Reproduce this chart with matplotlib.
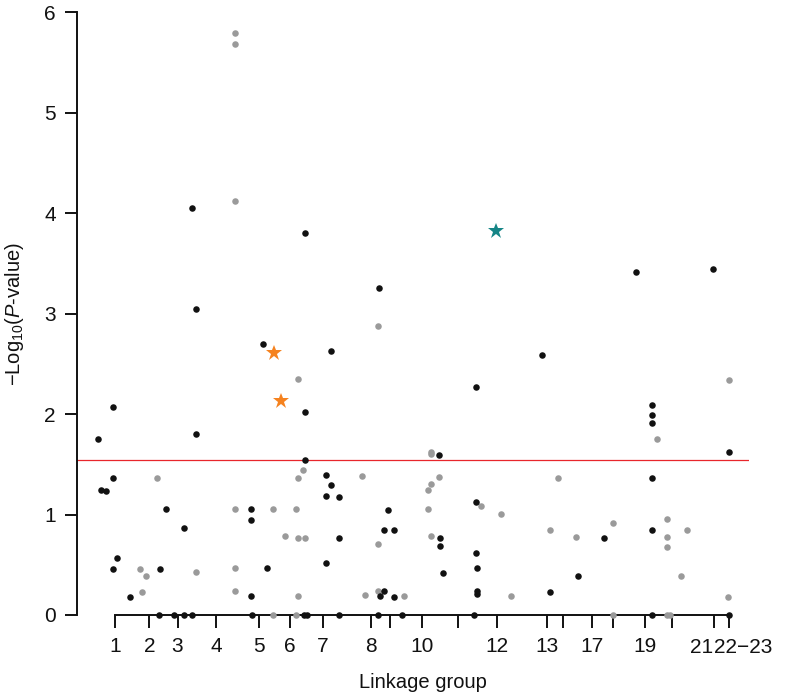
import matplotlib
matplotlib.use("Agg")
import matplotlib.pyplot as plt

plt.rcParams['font.family'] = ['Liberation Sans', 'DejaVu Sans']
plt.rcParams['mathtext.fontset'] = 'custom'
plt.rcParams['mathtext.rm'] = 'Liberation Sans'
plt.rcParams['mathtext.it'] = 'Liberation Sans:italic'

# ---- data (x = cumulative map position, arbitrary units; y = -log10 P) ----
black_x = [98.3, 100.7, 105.7, 113.3, 113.3, 117, 113.3, 130,
           160, 166, 158.5, 174.3, 184, 192.3, 183.8, 195.5, 192.3, 195.7,
           263.3, 250.5, 250.5, 251, 251.5, 267.2,
           305.2, 305.2, 304, 307, 305.3,
           330.8, 326.3, 331, 326.3, 339.5, 339, 326.3, 339,
           379.7, 383.7, 378.2, 388.2, 384.3, 394.3, 394.3, 379.3, 402,
           439.5, 440.5, 439.7, 443.3,
           476.3, 475.7, 475.7, 476.7, 476.7, 476.7, 473.8,
           542, 550, 578.5, 604.3,
           652.2, 652.2, 652.2, 652.2, 652.2, 652.2,
           635.7, 713.3, 729.3, 729.3]
black_y = [1.75, 1.245, 1.237, 2.067, 1.364, 0.57, 0.455, 0.18,
           0.455, 1.06, 0, 0, 0, 0, 0.87, 1.805, 4.05, 3.046,
           2.70, 1.052, 0.949, 0.185, 0, 0.471,
           2.024, 1.543, 0, 0, 3.806,
           2.631, 1.394, 1.291, 1.188, 1.178, 0.77, 0.518, 0,
           0.186, 0.236, 0, 1.044, 0.849, 0.849, 0.182, 3.255, 0,
           1.596, 0.77, 0.69, 0.421,
           2.273, 1.124, 0.618, 0.471, 0.236, 0.212, 0,
           2.592, 0.232, 0.385, 0.77,
           2.088, 1.99, 1.911, 1.364, 0.851, 0,
           3.418, 3.448, 1.625, 0]

gray_x = [140, 146, 142, 156.7, 195.5,
          235.3, 235.3, 235.3, 235.2, 235.2, 235.2,
          273.3, 273.3, 285, 295.7, 297.8, 297.8, 302.7, 297.8, 305.2, 297.8, 295.7,
          362.2, 365.5, 377.8, 377.8, 378, 404.3,
          430.7, 430.7, 439.2, 430.8, 428.3, 428.3, 430.8,
          480.8, 501, 511, 550.2, 558, 576.2, 613, 613,
          656.7, 667.5, 667.5, 667.5, 666.7, 670.3, 686.7, 681,
          729.3, 728.5]
gray_y = [0.455, 0.385, 0.232, 1.364, 0.431,
          5.797, 5.681, 4.125, 1.06, 0.471, 0.236,
          1.06, 0, 0.79, 1.06, 2.349, 1.364, 1.444, 0.77, 0.77, 0.189, 0,
          1.386, 0.2, 0.704, 0.234, 2.88, 0.189,
          1.623, 1.60, 1.369, 1.307, 1.241, 1.058, 0.79,
          1.085, 1.004, 0.186, 0.851, 1.364, 0.772, 0.911, 0,
          1.753, 0.957, 0.775, 0.672, 0, 0, 0.849, 0.388,
          2.335, 0.182]

orange_x = [274, 280.7]
orange_y = [2.611, 2.133]
teal_x = [495.7]
teal_y = [3.82]

threshold = 1.543

group_ticks = [115, 149.3, 177.5, 216, 259.3, 289.7, 322.7, 370.7, 390.5, 422.3,
               458.5, 496.7, 546.7, 563.3, 591.7, 613.2, 644.8, 671.7, 714.2, 729.3]
group_labels = ['1', '2', '3', '4', '5', '6', '7', '8', '', '10',
                '', '12', '13', '', '17', '', '19', '', '', '']
end_labels = ['21', '22\u221223']

# ---- figure ----
W, H = 788, 694
fig = plt.figure(figsize=(W / 100, H / 100), dpi=100)
left_px, right_px, bottom_px, top_px = 76.7, 749.3, 615, 12.3
ax = fig.add_axes([left_px / W, 1 - bottom_px / H,
                   (right_px - left_px) / W, (bottom_px - top_px) / H])
ax.set_xlim(left_px, right_px)
ax.set_ylim(0, 6)

ax.axhline(threshold, color='#E8262B', lw=0.9, zorder=1)

ax.plot(gray_x, gray_y, 'o', color='#9A9A9A', ms=4.7, mew=0, clip_on=False, zorder=3)
ax.plot(black_x, black_y, 'o', color='#111111', ms=4.7, mew=0, clip_on=False, zorder=4)
ax.plot(orange_x, orange_y, '*', color='#F5821F', ms=12, mew=0, clip_on=False, zorder=5)
ax.plot(teal_x, teal_y, '*', color='#158586', ms=12, mew=0, clip_on=False, zorder=5)

for s in ['top', 'right']:
    ax.spines[s].set_visible(False)
for s in ['left', 'bottom']:
    ax.spines[s].set_linewidth(1.4)
    ax.spines[s].set_color('#111111')
ax.spines['left'].set_bounds(0, 6)
ax.spines['bottom'].set_bounds(group_ticks[0], group_ticks[-1])

ax.set_yticks(range(0, 7))
ax.set_yticklabels([str(i) for i in range(0, 7)])
ax.set_xticks(group_ticks)
ax.set_xticklabels(group_labels)
ax.tick_params(axis='both', length=9, width=1.4, color='#111111',
               labelsize=15, labelcolor='#111111')
ax.tick_params(axis='y', pad=6)
ax.tick_params(axis='x', pad=7)

# last two group labels (drawn touching, as in original)
ax.text(713.3, -0.225, end_labels[0], ha='right', va='top', fontsize=15,
        color='#111111', transform=ax.transData, clip_on=False)
ax.text(713.6, -0.225, end_labels[1], ha='left', va='top', fontsize=15,
        color='#111111', transform=ax.transData, clip_on=False)

fig.text(422.5 / W, 1 - 688 / H, 'Linkage group', ha='center', va='baseline',
         fontsize=14.5, color='#111111')
fig.text(14.5 / W, 1 - 314 / H, r'$-$Log$_{10}$($P$-value)', rotation=90,
         ha='center', va='center', fontsize=14.5, color='#111111')

fig.savefig('out.png', dpi=100)
